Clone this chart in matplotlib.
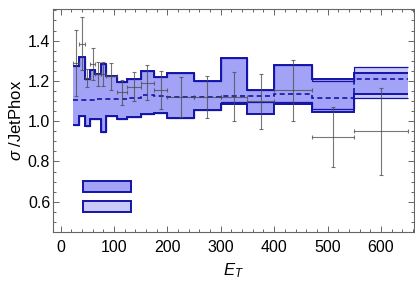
import numpy as np
import matplotlib
matplotlib.use('Agg')
import matplotlib.pyplot as plt
from matplotlib.patches import Rectangle

plt.rcParams['font.family'] = ['Liberation Sans', 'DejaVu Sans']
plt.rcParams['mathtext.fontset'] = 'custom'
plt.rcParams['mathtext.it'] = 'Liberation Sans:italic'
plt.rcParams['mathtext.rm'] = 'Liberation Sans'

# E_T bin edges
edges = [24, 35, 45, 55, 65, 75, 85, 105, 125, 150, 175, 200, 250, 300, 350, 400, 470, 550, 650]

# band A (scale uncertainty)
scale_hi = [1.275, 1.32, 1.212, 1.253, 1.234, 1.282, 1.224, 1.195, 1.21, 1.25, 1.217, 1.237,
            1.202, 1.316, 1.154, 1.278, 1.209, 1.237]
scale_lo = [0.983, 1.025, 0.975, 1.013, 1.01, 0.947, 1.025, 1.01, 1.021, 1.035, 1.041, 1.016,
            1.055, 1.085, 1.035, 1.085, 1.046, 1.134]
# band B
pdf_hi = [1.275, 1.32, 1.212, 1.253, 1.234, 1.282, 1.224, 1.195, 1.21, 1.25, 1.217, 1.237,
          1.202, 1.316, 1.154, 1.278, 1.2, 1.27]
pdf_lo = [0.983, 1.025, 0.975, 1.013, 1.01, 0.947, 1.025, 1.01, 1.021, 1.035, 1.041, 1.016,
          1.055, 1.096, 1.096, 1.096, 1.06, 1.113]
central = [1.104, 1.105, 1.106, 1.107, 1.108, 1.108, 1.109, 1.111, 1.115, 1.129, 1.125, 1.12,
           1.122, 1.127, 1.124, 1.136, 1.113, 1.209]

# data points
data_y = [1.29, 1.385, 1.215, 1.285, 1.235, 1.235, 1.224, 1.143, 1.172, 1.19, 1.154, 1.121,
          1.118, 1.121, 1.099, 1.154, 0.922, 0.95]
data_err = [0.165, 0.13, 0.045, 0.08, 0.058, 0.058, 0.067, 0.062, 0.072, 0.087, 0.094, 0.098,
            0.104, 0.122, 0.137, 0.151, 0.149, 0.217]

edge_c = '#1414a8'
col_a = '#a2a2f6'
col_b = '#c9c9fa'

fig = plt.figure(figsize=(4.15, 2.84), dpi=100)
ax = fig.add_axes([0.1277, 0.1831, 0.8699, 0.7852])

e = np.array(edges, dtype=float)
ax.stairs(pdf_hi, e, baseline=pdf_lo, fill=True, color=col_b, lw=0, zorder=1)
ax.stairs(scale_hi, e, baseline=scale_lo, fill=True, color=col_a, lw=0, zorder=2)
for v in (pdf_hi, pdf_lo):
    ax.stairs(v, e, baseline=None, color=edge_c, lw=0.9, zorder=3)
for v in (scale_hi, scale_lo):
    ax.stairs(v, e, baseline=None, color=edge_c, lw=1.4, zorder=3)
ax.stairs(central, e, baseline=None, color=edge_c, lw=1.2, ls=(0, (3, 2)), zorder=4)

xc = (e[:-1] + e[1:]) / 2
xw = (e[1:] - e[:-1]) / 2
ax.errorbar(xc, data_y, xerr=xw, yerr=data_err, fmt='none', ecolor='#4a4a4a',
            elinewidth=0.8, capsize=1.5, capthick=0.8, alpha=0.75, zorder=5)

# legend swatches (no labels)
ax.add_patch(Rectangle((0.084, 0.178), 0.131, 0.051, transform=ax.transAxes,
                       facecolor=col_a, edgecolor=edge_c, lw=1.4, zorder=6))
ax.add_patch(Rectangle((0.084, 0.088), 0.131, 0.051, transform=ax.transAxes,
                       facecolor=col_b, edgecolor=edge_c, lw=1.4, zorder=6))

ax.set_xlim(-14.4, 662)
ax.set_ylim(0.45, 1.557)
ax.set_xticks([0, 100, 200, 300, 400, 500, 600])
ax.set_xticks(np.arange(-0, 661, 20), minor=True)
ax.set_yticks([0.6, 0.8, 1.0, 1.2, 1.4])
ax.set_yticks(np.arange(0.45, 1.56, 0.05), minor=True)
ax.tick_params(which='both', direction='in', top=True, right=True, color='#666666',
               labelsize=11.5, width=0.7)
ax.tick_params(which='major', length=4)
ax.tick_params(which='minor', length=2)
ax.tick_params(axis='x', pad=6)
ax.tick_params(axis='y', pad=2)
for s in ax.spines.values():
    s.set_color('#666666')
    s.set_linewidth(0.8)

ax.set_xlabel('$E_T$', fontsize=12)
ax.set_ylabel(r'$\sigma$ /JetPhox', fontsize=12, labelpad=3)

fig.savefig('out.png', dpi=100)
